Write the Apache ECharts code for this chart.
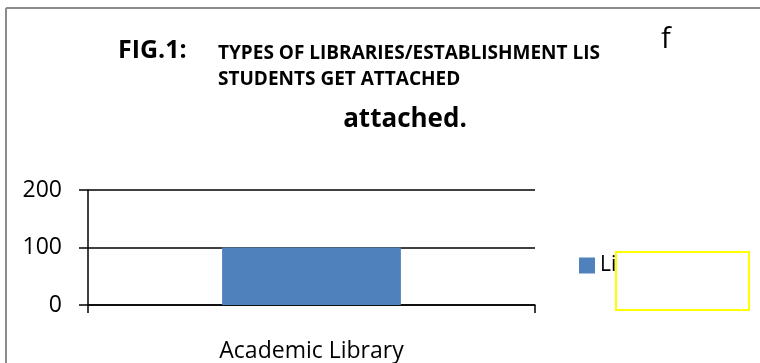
<!DOCTYPE html>
<html>
<head>
<meta charset="utf-8">
<script src="https://cdn.jsdelivr.net/npm/echarts@6/dist/echarts.min.js"></script>
<style>
html,body{margin:0;padding:0;background:#fff;}
#c{width:760px;height:363px;}
</style>
</head>
<body>
<div id="c"></div>
<script>
var categories = ['Academic Library'];
var seriesName = 'Libraries';
var values = [100];
var yTicks = [0, 100, 200];

var FONT = "'Open Sans', sans-serif";
var chart = echarts.init(document.getElementById('c'), null, {renderer: 'canvas'});
chart.setOption({
  animation: false,
  backgroundColor: '#ffffff',
  grid: {left: 88, right: 225, top: 190, bottom: 58},
  xAxis: {
    type: 'category',
    data: categories,
    boundaryGap: true,
    axisLine: {show: true, lineStyle: {color: '#000', width: 1.5}},
    axisTick: {show: true, length: 8, lineStyle: {color: '#000', width: 1.5}},
    axisLabel: {color: '#000', fontSize: 23, fontFamily: FONT, margin: 35, verticalAlign: 'top'},
    splitLine: {show: false}
  },
  yAxis: {
    type: 'value',
    min: yTicks[0],
    max: yTicks[yTicks.length - 1],
    interval: yTicks[1] - yTicks[0],
    axisLine: {show: true, lineStyle: {color: '#000', width: 1.5}},
    axisTick: {show: true, length: 9, lineStyle: {color: '#000', width: 1.5}},
    axisLabel: {color: '#000', fontSize: 23, fontFamily: FONT, margin: 26},
    splitLine: {show: true, lineStyle: {color: '#000', width: 1.5}}
  },
  legend: {
    show: true,
    left: 574,
    top: 250,
    orient: 'vertical',
    itemWidth: 16,
    itemHeight: 16,
    icon: 'rect',
    textStyle: {color: '#000', fontSize: 21, fontFamily: FONT},
    data: [seriesName]
  },
  series: [{
    type: 'bar',
    name: seriesName,
    data: values,
    barWidth: '40%',
    itemStyle: {color: '#4f81bd'}
  }],
  graphic: [
    {type: 'line', z: 100, shape: {x1: 6, y1: 8, x2: 760, y2: 8}, style: {stroke: '#8c8c8c', lineWidth: 2}},
    {type: 'line', z: 100, shape: {x1: 6, y1: 8, x2: 6, y2: 363}, style: {stroke: '#8c8c8c', lineWidth: 2}},
    {type: 'text', z: 100, x: 118, y: 51, style: {text: 'FIG.1:', font: 'bold 25px ' + FONT, fill: '#000', align: 'left', verticalAlign: 'middle'}},
    {type: 'text', z: 100, x: 218, y: 53.5, style: {text: 'TYPES OF LIBRARIES/ESTABLISHMENT LIS', font: 'bold 19px ' + FONT, fill: '#000', align: 'left', verticalAlign: 'middle'}},
    {type: 'text', z: 100, x: 218, y: 79.5, style: {text: 'STUDENTS GET ATTACHED', font: 'bold 19px ' + FONT, fill: '#000', align: 'left', verticalAlign: 'middle'}},
    {type: 'text', z: 100, x: 405, y: 120, style: {text: 'attached.', font: 'bold 26px ' + FONT, fill: '#000', align: 'center', verticalAlign: 'middle'}},
    {type: 'text', z: 100, x: 661, y: 40, style: {text: 'f', font: '29px ' + FONT, fill: '#000', align: 'left', verticalAlign: 'middle'}},
    {type: 'rect', z: 100, shape: {x: 616, y: 252, width: 133, height: 58}, style: {fill: '#ffffff', stroke: '#ffff00', lineWidth: 2}}
  ]
});
</script>
</body>
</html>
